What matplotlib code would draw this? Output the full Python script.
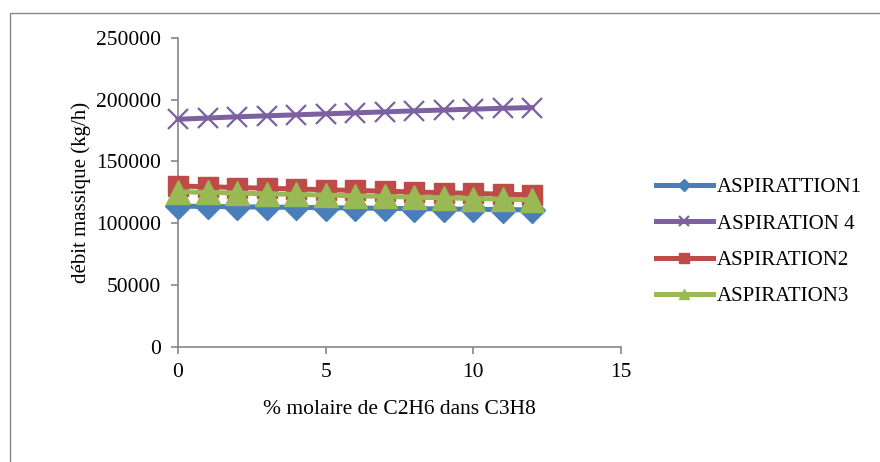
import matplotlib
matplotlib.use("Agg")
import matplotlib.pyplot as plt
from matplotlib.patches import Rectangle

plt.rcParams['font.family'] = ['Liberation Serif', 'DejaVu Serif']

x = [0, 1, 2, 3, 4, 5, 6, 7, 8, 9, 10, 11, 12]
asp1 = [113700, 113450, 113200, 112950, 112700, 112450, 112200, 111950, 111700, 111450, 111200, 110950, 110700]
asp4 = [184000, 185000, 186000, 186800, 187600, 188400, 189200, 190000, 190800, 191500, 192200, 192900, 193500]
asp2 = [130000, 129400, 128800, 128200, 127600, 127000, 126400, 125800, 125200, 124600, 124000, 123400, 122800]
asp3 = [125400, 124850, 124300, 123750, 123200, 122650, 122100, 121550, 121000, 120450, 119900, 119350, 118800]

labels = ["ASPIRATTION1", "ASPIRATION 4", "ASPIRATION2", "ASPIRATION3"]
xticks = [0, 5, 10, 15]
yticks = [0, 50000, 100000, 150000, 200000, 250000]

fig = plt.figure(figsize=(8.8, 4.62), dpi=100)
fig.patches.append(Rectangle((10/880, -0.1), 1.2, 1 - 13/462 + 0.1, transform=fig.transFigure,
                             fill=False, edgecolor='#888888', linewidth=1.0))
ax = fig.add_axes([178/880, 1 - 346.7/462, (620.7-178)/880, (346.7-37.7)/462])

lw = 3.6
h1, = ax.plot(x, asp1, color='#4A7EBB', lw=lw, marker='D', markersize=13, label=labels[0], zorder=3)
h4, = ax.plot(x, asp4, color='#7D60A0', lw=lw, marker='x', markersize=15, markeredgewidth=1.6, label=labels[1], zorder=3)
h2, = ax.plot(x, asp2, color='#BE4B48', lw=lw, marker='s', markersize=15, label=labels[2], zorder=4)
h3, = ax.plot(x, asp3, color='#98B954', lw=lw, marker='^', markersize=17, label=labels[3], zorder=5)

ax.set_xlim(0, 15)
ax.set_ylim(0, 250000)
ax.set_xticks(xticks)
ax.set_yticks(yticks)
ax.set_xticklabels([str(v) for v in xticks])
ax.set_yticklabels([str(v) for v in yticks])
for s in ['top', 'right']:
    ax.spines[s].set_visible(False)
for s in ['left', 'bottom']:
    ax.spines[s].set_color('#868686')
    ax.spines[s].set_linewidth(1.2)
ax.tick_params(axis='both', direction='out', length=5, color='#868686', width=1.2,
               labelsize=15.5, pad=7)
ax.set_xlabel("% molaire de C2H6 dans C3H8", fontsize=15.5, labelpad=13)
ax.set_ylabel("débit massique (kg/h)", fontsize=15, labelpad=4)
for ln in ax.get_lines():
    ln.set_clip_on(False)

leg = fig.legend(handles=[h1, h4, h2, h3], labels=labels, loc='center left',
                 bbox_to_anchor=(637/880, 1 - 242/462), frameon=False, fontsize=15,
                 handlelength=2.75, handletextpad=0.2, labelspacing=0.8, markerscale=0.45)

fig.savefig("out.png", dpi=100)
